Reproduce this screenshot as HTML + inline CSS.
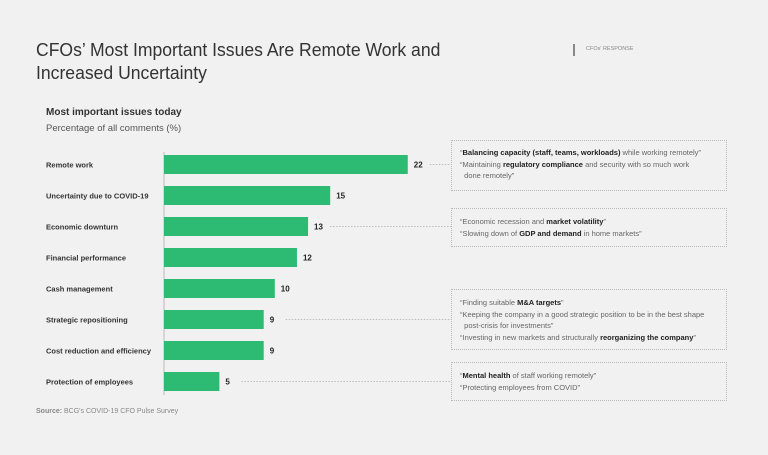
<!DOCTYPE html>
<html><head><meta charset="utf-8"><style>
body{margin:0;width:768px;height:455px;background:#f1f1f1;font-family:"Liberation Sans",sans-serif;overflow:hidden;position:relative}
.t{position:absolute;color:#333}
.box{position:absolute;border:1px dotted #b9b9b9;font-size:7.5px;color:#666;line-height:11.5px;padding:6px 0 0 8px;box-sizing:border-box}
.box b{color:#222}
</style></head><body>
<div class="t" style="left:36px;top:38px;font-size:18.5px;line-height:23px;color:#333;transform:scaleX(0.95);transform-origin:0 0;white-space:nowrap">CFOs’ Most Important Issues Are Remote Work and<br>Increased Uncertainty</div>
<div style="position:absolute;left:573px;top:44px;width:2px;height:12px;background:#888"></div>
<div class="t" style="left:586px;top:46px;font-size:5.5px;color:#888">CFOs' RESPONSE</div>
<div class="t" style="left:46px;top:107px;font-size:10px;font-weight:bold;color:#333">Most important issues today</div>
<div class="t" style="left:46px;top:123px;font-size:9.5px;color:#555">Percentage of all comments (%)</div>
<svg id="chart" width="768" height="455" style="position:absolute;left:0;top:0"></svg>
<div class="box" style="left:451px;top:140px;width:276px;height:51px">“<b>Balancing capacity (staff, teams, workloads)</b> while working remotely”<br>“Maintaining <b>regulatory compliance</b> and security with so much work<br>&nbsp;&nbsp;done remotely”</div>
<div class="box" style="left:451px;top:208px;width:276px;height:39px;padding-top:7px">“Economic recession and <b>market volatility</b>”<br>“Slowing down of <b>GDP and demand</b> in home markets”</div>
<div class="box" style="left:451px;top:289px;width:276px;height:61px;padding-top:7px">“Finding suitable <b>M&amp;A targets</b>”<br>“Keeping the company in a good strategic position to be in the best shape<br>&nbsp;&nbsp;post-crisis for investments”<br>“Investing in new markets and structurally <b>reorganizing the company</b>”</div>
<div class="box" style="left:451px;top:362px;width:276px;height:39px;padding-top:7px">“<b>Mental health</b> of staff working remotely”<br>“Protecting employees from COVID”</div>
<div class="t" style="left:36px;top:408px;font-size:7px;color:#888"><b>Source:</b> BCG's COVID-19 CFO Pulse Survey</div>
<script>
const categories=["Remote work","Uncertainty due to COVID-19","Economic downturn","Financial performance","Cash management","Strategic repositioning","Cost reduction and efficiency","Protection of employees"];
const values=[22,15,13,12,10,9,9,5];
const linked=[true,false,true,false,false,true,false,true];
const svg=document.getElementById('chart');const NS='http://www.w3.org/2000/svg';
const x0=164,k=11.08,y0=164.5,step=31,bh=19;
const xs=v=>x0+v*k, ys=i=>y0+i*step;
function mk(t,a){const e=document.createElementNS(NS,t);for(const n in a)e.setAttribute(n,a[n]);svg.appendChild(e);return e;}
const ax=mk('line',{x1:x0,x2:x0,y1:152,y2:395,stroke:'#bbb','stroke-width':1});


categories.forEach((c,i)=>{
 const y=ys(i);
 const lb=mk('text',{x:46,y:y+3,'font-size':7.5,'font-weight':'bold',fill:'#333','font-family':'Liberation Sans'});lb.textContent=c;
 
 
 const r=mk('rect',{x:x0,y:y-bh/2,width:xs(values[i])-x0,height:bh,fill:'#2dbb73'});
 
 
 const vt=mk('text',{x:xs(values[i])+6,y:y+3,'font-size':8,'font-weight':'bold',fill:'#222','font-family':'Liberation Sans'});vt.textContent=values[i];
 
 
 if(linked[i]){const l=mk('line',{x1:xs(values[i])+22,x2:451,y1:y,y2:y,stroke:'#aaa','stroke-width':0.8,'stroke-dasharray':'1.5,1.5'});
 
 }
});
</script>
</body></html>
